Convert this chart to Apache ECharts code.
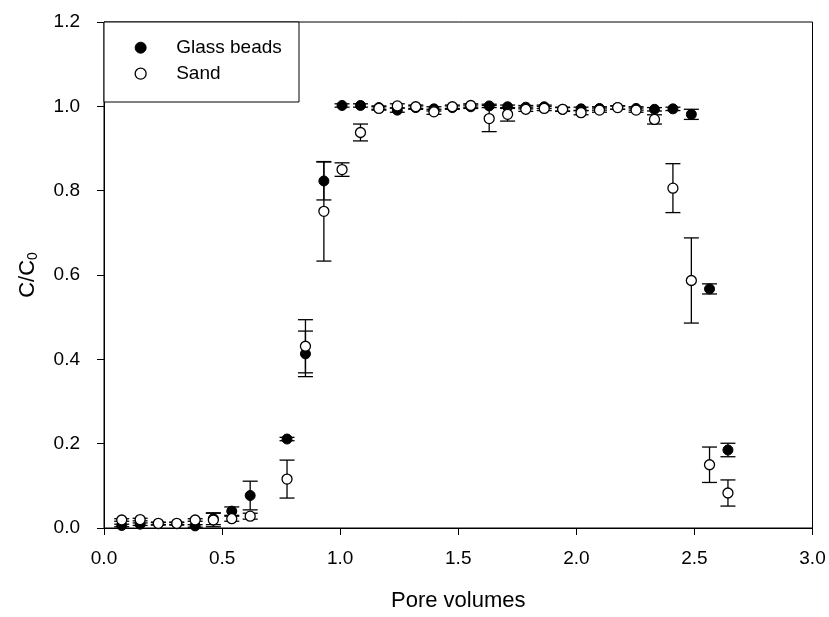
<!DOCTYPE html>
<html>
<head>
<meta charset="utf-8">
<title>C/C0 vs pore volumes</title>
<script src="https://cdn.jsdelivr.net/npm/echarts@6/dist/echarts.min.js"></script>
<style>
  html, body { margin: 0; padding: 0; background: #fff; }
  #chart { width: 829px; height: 617px; }
</style>
</head>
<body>
<div id="chart"></div>
<script>
// pore volumes (same for both media)
const poreVolumes = [0.075, 0.153, 0.230, 0.308, 0.386, 0.463, 0.541, 0.619, 0.775, 0.853,
  0.931, 1.008, 1.086, 1.164, 1.242, 1.320, 1.397, 1.475, 1.553, 1.631, 1.709, 1.786,
  1.864, 1.942, 2.020, 2.098, 2.175, 2.253, 2.331, 2.409, 2.487, 2.564, 2.642];

const glassBeads = [0.006, 0.009, 0.010, 0.010, 0.005, 0.022, 0.040, 0.077, 0.211, 0.413,
  0.823, 1.002, 1.002, 0.997, 0.991, 0.997, 0.994, 0.997, 0.999, 1.001, 0.999, 0.998,
  0.999, 0.993, 0.994, 0.995, 0.997, 0.995, 0.993, 0.994, 0.981, 0.567, 0.185];
const glassBeadsErr = [0.003, 0.003, 0.003, 0.003, 0.003, 0.014, 0.010, 0.034, 0.004, 0.054,
  0.045, 0.004, 0.004, 0.004, 0.005, 0.004, 0.005, 0.004, 0.004, 0.004, 0.004, 0.004,
  0.004, 0.004, 0.004, 0.004, 0.004, 0.004, 0.004, 0.004, 0.012, 0.012, 0.016];

const sand = [0.019, 0.020, 0.011, 0.011, 0.019, 0.019, 0.022, 0.028, 0.116, 0.431,
  0.751, 0.850, 0.938, 0.995, 1.001, 0.999, 0.987, 0.999, 1.002, 0.971, 0.981, 0.993,
  0.995, 0.993, 0.985, 0.991, 0.997, 0.991, 0.969, 0.806, 0.587, 0.150, 0.083];
const sandErr = [0.003, 0.003, 0.003, 0.003, 0.003, 0.016, 0.006, 0.007, 0.045, 0.063,
  0.118, 0.016, 0.020, 0.004, 0.005, 0.004, 0.006, 0.004, 0.004, 0.031, 0.016, 0.005,
  0.005, 0.005, 0.005, 0.005, 0.004, 0.005, 0.011, 0.058, 0.101, 0.042, 0.031];

const FONT = 'Liberation Sans, Arial, sans-serif';

const points = (ys) => poreVolumes.map((x, i) => [x, ys[i]]);
const errPoints = (ys, es) => poreVolumes.map((x, i) => [x, ys[i], es[i]]);

// vertical bar with caps, drawn through the axis scales
function errorBar(params, api) {
  const x = api.value(0), y = api.value(1), e = api.value(2);
  const lo = api.coord([x, y - e]);
  const hi = api.coord([x, y + e]);
  const half = 7.5;
  const style = { stroke: '#000', lineWidth: 1.3 };
  return {
    type: 'group',
    children: [
      { type: 'line', shape: { x1: lo[0], y1: lo[1], x2: hi[0], y2: hi[1] }, style },
      { type: 'line', shape: { x1: lo[0] - half, y1: lo[1], x2: lo[0] + half, y2: lo[1] }, style },
      { type: 'line', shape: { x1: hi[0] - half, y1: hi[1], x2: hi[0] + half, y2: hi[1] }, style }
    ]
  };
}

const chart = echarts.init(document.getElementById('chart'));

const option = {
  animation: false,
  backgroundColor: '#fff',
  textStyle: { fontFamily: FONT, color: '#000' },
  grid: {
    left: 104, right: 16.5, top: 22, bottom: 85,
    show: true, borderColor: '#000', borderWidth: 1
  },
  graphic: [{
    type: 'rect',
    shape: { x: 104, y: 22, width: 195, height: 80 },
    style: { fill: '#fff', stroke: '#000', lineWidth: 1 },
    z: 50
  }],
  legend: {
    orient: 'vertical',
    left: 134.5,
    top: 37.7,
    padding: 0,
    itemWidth: 11,
    itemHeight: 11,
    itemGap: 6,
    z: 60,
    textStyle: { fontFamily: FONT, fontSize: 19, color: '#000', lineHeight: 20, padding: [0, 0, 0, 25] },
    data: [
      { name: 'Glass beads', icon: 'circle', itemStyle: { color: '#000', borderColor: '#000', borderWidth: 1 } },
      { name: 'Sand', icon: 'circle', itemStyle: { color: '#fff', borderColor: '#000', borderWidth: 1.3 } }
    ]
  },
  xAxis: {
    type: 'value',
    min: 0, max: 3, interval: 0.5,
    name: 'Pore volumes',
    nameLocation: 'middle',
    nameGap: 62,
    nameTextStyle: { fontFamily: FONT, fontSize: 22, color: '#000' },
    axisLine: { lineStyle: { color: '#000', width: 1 } },
    axisTick: { show: true, length: 7, lineStyle: { color: '#000', width: 1 } },
    axisLabel: { margin: 21, fontSize: 19, color: '#000', fontFamily: FONT,
      formatter: (v) => v.toFixed(1) },
    splitLine: { show: false }
  },
  yAxis: {
    type: 'value',
    min: 0, max: 1.2, interval: 0.2,
    name: '{a|C/C}{b|0}',
    nameLocation: 'middle',
    nameGap: 64,
    nameTextStyle: {
      fontFamily: FONT, color: '#000',
      rich: {
        a: { fontFamily: FONT, fontSize: 22, color: '#000' },
        b: { fontFamily: FONT, fontSize: 14, color: '#000', padding: [10, 0, 0, 0] }
      }
    },
    axisLine: { show: true, lineStyle: { color: '#000', width: 1 } },
    axisTick: { show: true, length: 7, lineStyle: { color: '#000', width: 1 } },
    axisLabel: { margin: 24, fontSize: 19, color: '#000', fontFamily: FONT,
      formatter: (v) => v.toFixed(1) },
    splitLine: { show: false }
  },
  series: [
    {
      name: 'Glass beads err', type: 'custom', renderItem: errorBar,
      data: errPoints(glassBeads, glassBeadsErr), encode: { x: 0, y: 1 }, z: 2, silent: true
    },
    {
      name: 'Sand err', type: 'custom', renderItem: errorBar,
      data: errPoints(sand, sandErr), encode: { x: 0, y: 1 }, z: 2, silent: true
    },
    {
      name: 'Glass beads', type: 'scatter', symbol: 'circle', symbolSize: 10,
      itemStyle: { color: '#000', borderColor: '#000', borderWidth: 1, opacity: 1 },
      data: points(glassBeads), z: 3
    },
    {
      name: 'Sand', type: 'scatter', symbol: 'circle', symbolSize: 10,
      itemStyle: { color: '#fff', borderColor: '#000', borderWidth: 1.3, opacity: 1 },
      data: points(sand), z: 4
    }
  ]
};

chart.setOption(option);
window.onresize = function () {
  chart.resize();
};
</script>
</body>
</html>
